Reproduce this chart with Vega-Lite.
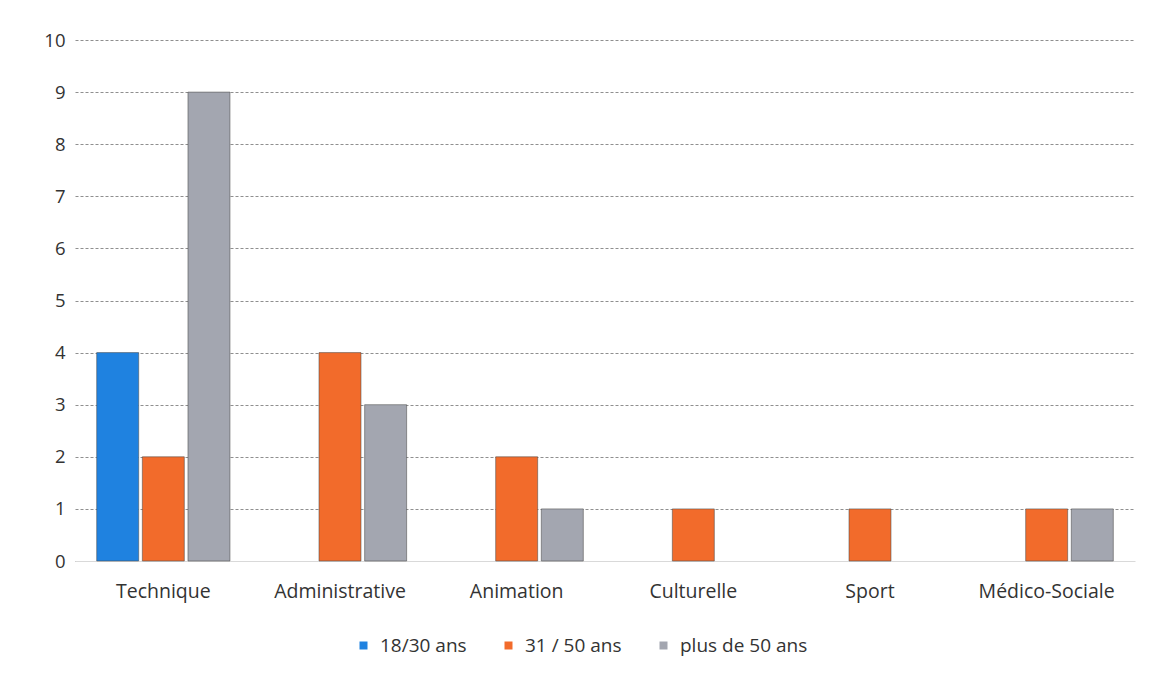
{
  "$schema": "https://vega.github.io/schema/vega-lite/v6.json",
  "width": 1060,
  "height": 521,
  "autosize": "none",
  "padding": {"left": 75, "top": 40, "right": 20, "bottom": 114},
  "background": "white",
  "config": {
    "font": "Open Sans",
    "view": {"stroke": null}
  },
  "data": {
    "values": [
      {"categorie": "Technique", "age": "18/30 ans", "valeur": 4},
      {"categorie": "Technique", "age": "31 / 50 ans", "valeur": 2},
      {"categorie": "Technique", "age": "plus  de 50 ans", "valeur": 9},
      {"categorie": "Administrative", "age": "31 / 50 ans", "valeur": 4},
      {"categorie": "Administrative", "age": "plus  de 50 ans", "valeur": 3},
      {"categorie": "Animation", "age": "31 / 50 ans", "valeur": 2},
      {"categorie": "Animation", "age": "plus  de 50 ans", "valeur": 1},
      {"categorie": "Culturelle", "age": "31 / 50 ans", "valeur": 1},
      {"categorie": "Sport", "age": "31 / 50 ans", "valeur": 1},
      {"categorie": "Médico-Sociale", "age": "31 / 50 ans", "valeur": 1},
      {"categorie": "Médico-Sociale", "age": "plus  de 50 ans", "valeur": 1}
    ]
  },
  "mark": {"type": "bar", "stroke": "#4a4a4a", "strokeWidth": 1, "strokeOpacity": 0.55},
  "encoding": {
    "x": {
      "field": "categorie",
      "type": "nominal",
      "sort": ["Technique", "Administrative", "Animation", "Culturelle", "Sport", "Médico-Sociale"],
      "scale": {"paddingInner": 0.225, "paddingOuter": 0.1125},
      "axis": {
        "title": null,
        "labelAngle": 0,
        "labelFontSize": 19.5,
        "labelColor": "#333333",
        "labelPadding": 21,
        "ticks": false,
        "domainColor": "#d9d9d9",
        "domainWidth": 1
      }
    },
    "xOffset": {
      "field": "age",
      "type": "nominal",
      "scale": {"domain": ["18/30 ans", "31 / 50 ans", "plus  de 50 ans"], "paddingInner": 0.08, "paddingOuter": 0.04}
    },
    "y": {
      "field": "valeur",
      "type": "quantitative",
      "scale": {"domain": [0, 10], "nice": false},
      "axis": {
        "title": null,
        "values": [0, 1, 2, 3, 4, 5, 6, 7, 8, 9, 10],
        "labelFontSize": 18.5,
        "labelColor": "#333333",
        "labelPadding": 10,
        "ticks": false,
        "domain": false,
        "grid": true,
        "gridColor": "#444444",
        "gridDash": [3, 2],
        "gridOpacity": 0.6,
        "gridWidth": 1
      }
    },
    "color": {
      "field": "age",
      "type": "nominal",
      "scale": {
        "domain": ["18/30 ans", "31 / 50 ans", "plus  de 50 ans"],
        "range": ["#1f82e0", "#f26b2b", "#a3a6b0"]
      },
      "legend": {
        "title": null,
        "orient": "none",
        "direction": "horizontal",
        "columns": 3,
        "gridAlign": "none",
        "columnPadding": 32,
        "legendX": 279,
        "legendY": 596,
        "symbolType": "square",
        "symbolSize": 64,
        "symbolStrokeWidth": 0,
        "labelFontSize": 19,
        "labelColor": "#333333",
        "labelOffset": 7
      }
    }
  }
}
